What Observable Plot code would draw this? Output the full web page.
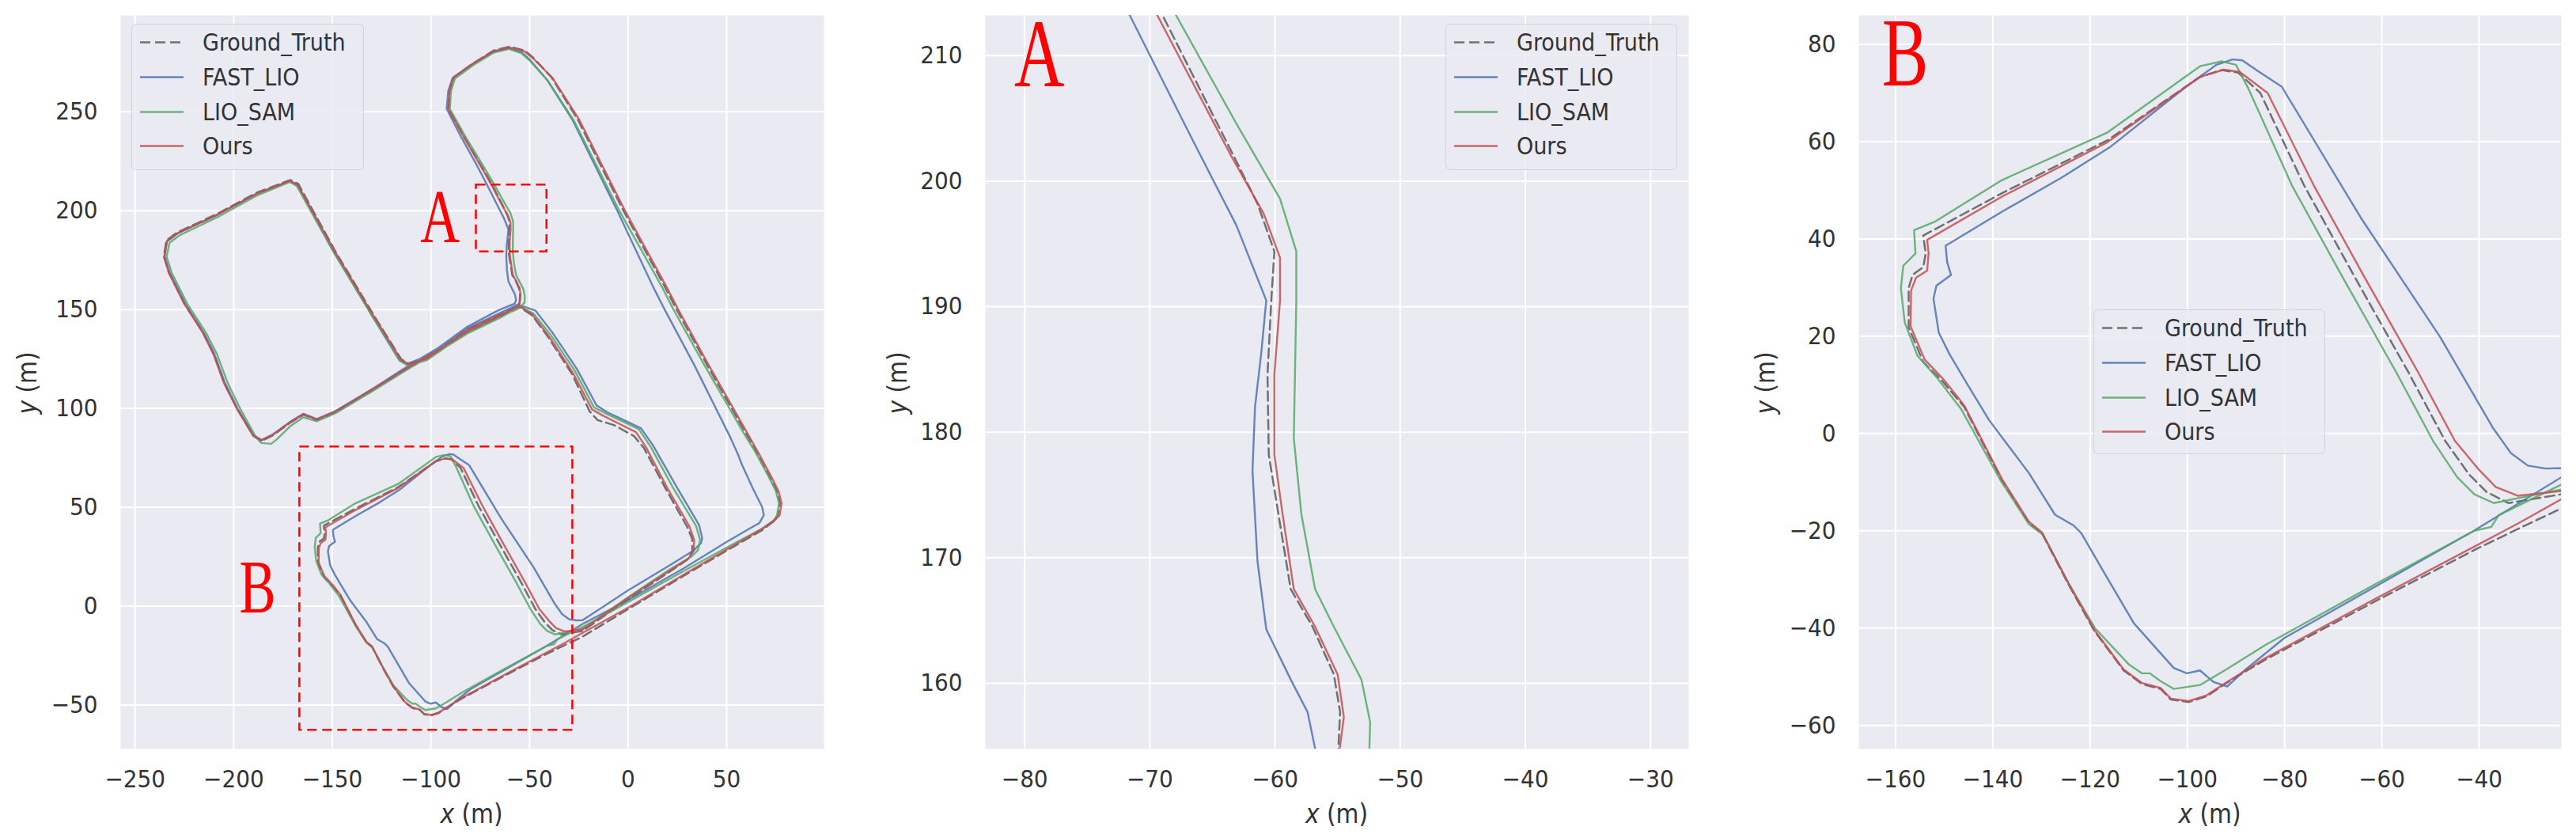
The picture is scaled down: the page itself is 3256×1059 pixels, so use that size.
<!DOCTYPE html>
<html>
<head>
<meta charset="utf-8">
<script src="https://cdn.jsdelivr.net/npm/d3@7"></script>
<script src="https://cdn.jsdelivr.net/npm/@observablehq/plot@0.6"></script>
<style>
  html, body { margin: 0; padding: 0; background: #ffffff; }
  #root { position: relative; width: 3256px; height: 1059px; overflow: hidden;
          font-family: "DejaVu Sans Condensed", "DejaVu Sans", sans-serif; color: #333; }
  .panel { position: absolute; top: 0; }
  .axlabel { position: absolute; font-size: 33px; line-height: 1; white-space: nowrap; color: #333; }
  .legend { position: absolute; box-sizing: border-box; background: rgba(234,234,242,0.8);
            border: 1.5px solid #d2d2da; border-radius: 6px; }
</style>
</head>
<body>
<div id="root"></div>
<script>
// ---------------- data (x, y in metres) ----------------
const GT = [
[74,43],[68,38.5],[55,31],[30,16.5],[0,-1.5],
[-23.1,-15.4],[-32,-19.6],[-41.1,-24],[-61.4,-34.5],[-84,-46.5],[-92,-51.3],[-96,-54],[-99.7,-55.2],[-103.4,-54.7],[-105.5,-52.5],[-109.3,-51.5],[-113.1,-48.7],
[-119.1,-40.6],[-124.5,-30.9],[-129.9,-20.5],[-132.6,-18.4],[-138.1,-9.7],[-145.9,5.5],[-150.5,10.9],[-154.3,14.7],[-157.3,21.8],[-157.3,29.9],[-156.5,32.6],[-154.3,34.2],[-153.8,37],[-154.3,40.7],
[-138.1,49.4],[-116.4,60.3],[-97.4,73.3],[-93,74.7],[-89.6,74.2],
[-85,70],[-76,51],[-65.5,32],[-54.5,12.5],[-47,-1.5],[-42,-8.5],[-38.5,-12],[-34,-14.3],
[-23.1,-12.5],[0,3.5],[20.4,17],[30,23.5],[32.5,27.5],
[32.5,34],[30,40],[19,59.5],[8,80],[3,86],[-7,91.5],[-15.5,94.1],[-19.5,98.5],[-28.5,117.5],[-40.8,136.5],[-48.8,147.2],[-55.5,151.5],
[-65,146.5],[-81.7,138.5],[-95,130],[-111,120.8],[-128.4,110.1],[-148.5,98.1],[-157.9,94.1],[-164.6,96.8],[-171.3,92.8],[-180.6,86.1],[-186,83.5],[-190,86.1],[-198,99.5],[-204.7,112.8],[-210,127.5],[-215.4,138.2],[-224.8,152.8],[-232.8,168.8],[-235.4,176.8],[-234.1,184.9],[-228.8,188.9],[-208.7,198.2],[-188.7,208.9],[-171.3,215.5],[-167.2,213.5],[-148.5,179.5],[-128.4,146.2],[-115,124.8],[-111,122.5],[-101.8,125.5],[-81.7,139.8],[-65,147.5],[-56,151.5],
[-55,153.5],[-54.8,157.7],[-55.3,160.7],[-57,164.5],[-58.75,167.5],[-59.8,173.9],[-60.5,178.2],[-60.6,184.6],[-60.3,190.5],[-60.05,194.4],[-61.4,198.2],[-63.1,201.6],[-68.98,213.2],[-75,223.5],[-83,236.9],[-91,251.5],[-90.4,260.9],[-88.4,267.5],[-79,274.2],[-68.3,280.9],[-60.3,282.9],[-52.3,280.9],[-48.3,277.5],[-38.9,267.5],[-25.5,246],[-2.4,200],[19,160.8],[24.6,150],[40,122],[60.5,86],[65,78],[71.5,66],[75.5,58],[77,52],[76,46],[74,43]
];
const FAST_LIO = [
[61.9,39.4],[50,32.5],[28,19],[-1,2.5],
[-23.1,-9],[-41.1,-20],[-61.4,-31.5],[-80,-42],[-88,-48.5],[-91.8,-52],[-94.6,-51.1],[-97.4,-48.7],[-100.1,-49.3],[-102.8,-48.2],
[-111,-39],[-116.4,-29.8],[-121.8,-20.5],[-123.4,-18.9],[-127.2,-16.7],[-132.6,-8.1],[-140.8,2.8],[-145.7,10.9],[-148.9,16.3],[-151.1,20.7],[-152.2,27.7],[-151.6,30.4],[-148.6,32.6],[-149.4,35.3],[-149.7,38.6],
[-138.1,45.6],[-126,52.5],[-116,58.8],[-100,71.5],[-94,75.8],[-90.7,76.9],[-88.7,76.7],
[-85.5,74.5],[-80.6,71.3],[-64.3,44.3],[-48,19.8],[-37.2,1.2],[-33.5,-4],[-30,-6.6],[-26.3,-7.2],
[-23.1,-7.1],[0,8],[20,20],[33,28],[37,32],
[37.5,34.5],[36,41],[24.5,60.5],[12.5,81.5],[6.5,90],[-10.5,98],[-16,101.5],[-26,120],[-38.5,138.5],[-47,149.5],[-56,152.5],
[-65,148.2],[-81.7,140.2],[-95,131.3],[-111,121.8],[-128.4,110.6],[-148.5,98.6],[-157.9,94.6],[-164.6,97.3],[-171.3,93.3],[-180.6,86.6],[-186,84],[-190,86.6],[-198,99.8],[-204.5,113],[-209.8,127.5],[-215.2,138.2],[-224.5,152.8],[-232.5,168.8],[-235,176.8],[-233.8,184.5],[-228.5,188.5],[-208.5,197.8],[-188.5,208.5],[-171.3,215],[-167.5,212.8],[-149,178.8],[-129,145.5],[-116,124.3],[-112,122.5],[-102,126.5],[-82,141],[-66,149.5],[-57.5,153],
[-56.8,154.8],[-57.4,157.7],[-58.75,160.3],[-60.7,164.3],[-61.4,169.7],[-61.8,176.9],[-61.6,182],[-61.1,186.3],[-60.7,190.5],[-63.1,196.5],[-66.6,203.3],[-71.6,213.2],[-77,223.5],[-84.5,236.9],[-92,251.5],[-91.2,260.5],[-89,267],[-79.5,273.8],[-68.5,280.3],[-60.5,282],[-54,280],[-50,276.5],[-41,266],[-28,245.5],[-5.5,200],[13,160.8],[18.5,150],[33.5,122],[51.5,86],[56,76],[57.5,72],[63,60],[68,50],[68.8,46],[66.5,42],[61.9,39.4]
];
const LIO_SAM = [
[73.5,43],[67.5,39],[54,31.8],[29,18.2],[-1,1.5],
[-23.1,-10.5],[-36,-16.8],[-37.5,-19.2],[-41,-20],[-61.4,-31],[-84,-43.5],[-92,-48.5],[-97.4,-51.7],[-102.8,-52.5],[-105.5,-50.9],[-107.7,-49.3],[-109.3,-49.3],[-112,-47.5],
[-119,-40],[-124.3,-31],[-129.7,-20.8],[-132.6,-18.6],[-138.3,-9.8],[-146.5,5],[-151.5,11.5],[-155.5,16],[-158.1,22.8],[-158.9,29.9],[-158.4,34.5],[-155.9,37],[-156.2,41.8],
[-152,43.5],[-138.1,52.1],[-116.4,61.9],[-97.4,75.5],[-93,76.5],[-90,75.8],
[-87.5,71],[-78.5,51],[-68,32],[-57,12.5],[-49.5,-1.5],[-44.5,-9],[-41,-12.5],[-37,-14.3],
[-23.1,-11.5],[0,4.5],[21,18.5],[32,25],[35.5,28.5],
[36.5,33.5],[34.5,40.5],[23,59.5],[11.5,80.5],[5.5,89.5],[-11.5,97.5],[-17.3,100.5],[-27,119],[-39.5,137.5],[-48,148],[-55,151.5],
[-65,145.8],[-81.7,137.8],[-95,129.5],[-111,120.3],[-128.4,109.5],[-148.5,97.5],[-157.9,93.5],[-164.6,95.5],[-171.3,91],[-178,84.5],[-181,82.1],[-186,82.5],[-189,86],[-196.5,99.5],[-203,112.8],[-208.5,127.5],[-214,138.2],[-223.5,152.8],[-231.5,168.8],[-234,176.8],[-232.5,183.8],[-227.5,187.5],[-208,196.8],[-188.5,207.5],[-171.5,214.5],[-168,212.5],[-149.2,178.8],[-129,145.5],[-115.5,124],[-111.5,121.5],[-101.8,124.5],[-81.7,138.5],[-65,146.3],[-55.5,150.5],
[-52.5,153.5],[-52.4,156.9],[-53.1,160.3],[-55.3,164.5],[-56.8,167.5],[-57.9,173.5],[-58.5,179.5],[-58.3,190.5],[-58.3,194.4],[-59.6,198.6],[-63.1,204.6],[-67.9,213.2],[-74,223.5],[-82.2,236.9],[-90.4,251.5],[-89.8,260.5],[-87.8,266.8],[-78.6,273.5],[-68,280],[-60.5,281.8],[-54,279.5],[-50,276],[-41,266],[-27.5,245.5],[-4.5,200],[17.5,160.8],[23,150],[38.6,122],[59.5,86],[64.5,78],[71,66],[75,58],[76.5,52],[75.5,46],[73.5,43]
];
const OURS = [
[74.8,44],[68.8,39.5],[55.5,31.8],[30.5,17.3],[0.5,-0.5],
[-23.1,-13.5],[-32,-18.5],[-41.1,-23.3],[-61.4,-34],[-84,-46.2],[-92,-51.2],[-96,-53.8],[-99.7,-55],[-103.4,-54.5],[-105.5,-52.3],[-109.3,-51.3],[-113.1,-48.5],
[-119.1,-40.4],[-124.5,-30.7],[-129.9,-20.3],[-132.6,-18.1],[-138.1,-9.4],[-145.9,5.8],[-150.3,11.3],[-154,15.2],[-156.9,22],[-156.8,29.4],[-155.8,32],[-153.5,33.5],[-153.2,37],[-153.5,39.8],
[-138.1,48.7],[-116.4,59.9],[-97.4,73.3],[-92.5,74.8],[-89.2,74.3],
[-83.5,70],[-74,51],[-63.5,32],[-52.5,12.5],[-45,-1.5],[-40,-7.5],[-36.6,-11],[-32,-12.8],
[-23.1,-11.8],[0.5,4.5],[21,17.8],[30.5,24],[33.2,28],
[33.5,33.5],[31,40.5],[20,59.5],[9,80.5],[4,88],[-12.7,96.3],[-18.3,99.5],[-28,118],[-40.4,136.8],[-48.6,147.5],[-55.3,151.8],
[-65,146.8],[-81.7,138.8],[-95,130.3],[-111,121],[-128.4,110.3],[-148.5,98.3],[-157.9,94.4],[-164.6,97],[-171.3,93],[-180.6,86.3],[-186,83.8],[-190.3,86.5],[-198.3,99.7],[-205,113],[-210.3,127.5],[-215.6,138.2],[-225,152.8],[-233,168.8],[-235.2,176.8],[-233.8,184.6],[-228.5,188.5],[-208.5,197.8],[-188.5,208.5],[-171.5,215],[-167.5,213],[-148.7,179.3],[-128.6,146],[-115.2,124.6],[-111.2,122.3],[-101.8,125.3],[-81.7,139.6],[-65,147.3],[-56,151.3],
[-55,153.5],[-54.5,157.3],[-55,160.7],[-56.8,164.5],[-58.5,167.5],[-59.4,173.5],[-60.05,178.2],[-60.05,184.6],[-59.6,190.5],[-59.6,193.9],[-60.9,197.4],[-63.5,202],[-69.4,213.2],[-75.3,223.5],[-83.2,236.9],[-91.2,251.5],[-90.6,260.9],[-88.6,267.3],[-79.2,274],[-68.5,280.5],[-60.3,282.5],[-52.5,280.5],[-48.5,277.3],[-38.5,267.3],[-24.8,246],[-1.6,200],[19.8,160.8],[25.4,150],[40.8,122],[61.3,86],[65.8,78],[72.3,66],[76.3,58],[77.8,52],[76.8,46],[74.8,44]
];

const seriesNames = ["Ground_Truth", "FAST_LIO", "LIO_SAM", "Ours"];

// axis ticks and ranges of the three panels
const p1XTicks = [-250, -200, -150, -100, -50, 0, 50];
const p1YTicks = [-50, 0, 50, 100, 150, 200, 250];
const p1XDomain = [-257.3, 99.3];
const p1YDomain = [-72.2, 298.7];
const p2XTicks = [-80, -70, -60, -50, -40, -30];
const p2YTicks = [160, 170, 180, 190, 200, 210];
const p2XDomain = [-83.14, -26.95];
const p2YDomain = [154.76, 213.2];
const p3XTicks = [-160, -140, -120, -100, -80, -60, -40];
const p3YTicks = [-60, -40, -20, 0, 20, 40, 60, 80];
const p3XDomain = [-167.55, -23.1];
const p3YDomain = [-64.85, 85.94];

// zoom regions marked on the overview, and their letters
const zoomBoxes = [
  {name: "A", x1: -77.0, x2: -41.2, y1: 179.2, y2: 213.0},
  {name: "B", x1: -166.5, x2: -28.1, y1: -62.7, y2: 80.5}
];
const p1Letters = [{t: "A", x: -105.4, y: 211.5}, {t: "B", x: -197.1, y: 24}];
const p2Letters = [{t: "A", x: -80.83, y: 213.0}];
const p3Letters = [{t: "B", x: -162.8, y: 85.6}];

// ---------------- drawing ----------------
const FONT = '"DejaVu Sans Condensed", "DejaVu Sans", sans-serif';
const styles = [
  {data: GT, stroke: "#5b5b5b", dash: "12,6", width: 2.5},
  {data: FAST_LIO, stroke: "#4C72B0", dash: null, width: 2.4},
  {data: LIO_SAM, stroke: "#55A868", dash: null, width: 2.4},
  {data: OURS, stroke: "#C44E52", dash: null, width: 2.4}
];

function makePanel({xDomain, yDomain, xTicks, yTicks, width, marginLeft, marginRight, letters, letterSize, boxes}) {
  const marks = [
    Plot.frame({fill: "#EAEAF2", stroke: null}),
    Plot.gridX(xTicks, {stroke: "#ffffff", strokeOpacity: 1, strokeWidth: 2}),
    Plot.gridY(yTicks, {stroke: "#ffffff", strokeOpacity: 1, strokeWidth: 2}),
    ...styles.map(s => Plot.line(s.data, {
      x: d => d[0], y: d => d[1], stroke: s.stroke, strokeWidth: s.width,
      strokeDasharray: s.dash, strokeOpacity: 0.85, clip: true
    })),
    Plot.axisX(xTicks, {tickSize: 0, tickPadding: 26, label: null, fontSize: 31}),
    Plot.axisY(yTicks, {tickSize: 0, tickPadding: 29, label: null, fontSize: 31})
  ];
  if (boxes) {
    marks.push(Plot.rect(boxes, {x1: "x1", x2: "x2", y1: "y1", y2: "y2", fill: "none",
      stroke: "red", strokeWidth: 2.5, strokeDasharray: "12,7"}));
  }
  marks.push(Plot.text(letters, {x: "x", y: "y", text: "t", fill: "red", fontSize: letterSize,
    fontFamily: '"Liberation Serif", "DejaVu Serif", serif', textAnchor: "start", lineAnchor: "top"}));
  const svg = Plot.plot({
    width, height: 1059, marginLeft, marginRight, marginTop: 19, marginBottom: 113,
    x: {domain: xDomain}, y: {domain: yDomain},
    style: {background: "transparent", fontFamily: FONT, fontSize: "31px", color: "#333", overflow: "visible"},
    marks
  });
  // squeeze the red letters horizontally like the original annotation glyphs
  svg.querySelectorAll('g[fill="red"] text').forEach(t => {
    const tr = t.getAttribute("transform") || "";
    t.setAttribute("transform", tr + " scale(0.72,1)");
  });
  return svg;
}

const root = document.getElementById("root");

function place(el, left) {
  const d = document.createElement("div");
  d.className = "panel";
  d.style.left = left + "px";
  d.appendChild(el);
  root.appendChild(d);
}

place(makePanel({xDomain: p1XDomain, yDomain: p1YDomain, xTicks: p1XTicks, yTicks: p1YTicks,
  width: 1060, marginLeft: 152, marginRight: 19, letters: p1Letters, letterSize: 96, boxes: zoomBoxes}), 0);
place(makePanel({xDomain: p2XDomain, yDomain: p2YDomain, xTicks: p2XTicks, yTicks: p2YTicks,
  width: 1080, marginLeft: 165, marginRight: 26, letters: p2Letters, letterSize: 122}), 1080);
place(makePanel({xDomain: p3XDomain, yDomain: p3YDomain, xTicks: p3XTicks, yTicks: p3YTicks,
  width: 1086, marginLeft: 179, marginRight: 19, letters: p3Letters, letterSize: 122}), 2170);

// axis labels
function axisLabel(html, cx, cy, rotate) {
  const d = document.createElement("div");
  d.className = "axlabel";
  d.innerHTML = html;
  d.style.left = cx + "px";
  d.style.top = cy + "px";
  d.style.transform = "translate(-50%,-50%)" + (rotate ? " rotate(-90deg)" : "");
  root.appendChild(d);
}
[[596, 34], [1689.5, 1134], [2793, 2231]].forEach(([xc, yc]) => {
  axisLabel("<i>x</i> (m)", xc, 1028, false);
  axisLabel("<i>y</i> (m)", yc, 484, true);
});

// legends
function legend(left, top, w, h) {
  const d = document.createElement("div");
  d.className = "legend";
  d.style.left = left + "px"; d.style.top = top + "px";
  d.style.width = w + "px"; d.style.height = h + "px";
  const ns = "http://www.w3.org/2000/svg";
  const s = document.createElementNS(ns, "svg");
  s.setAttribute("width", w); s.setAttribute("height", h);
  s.style.position = "absolute"; s.style.left = "-1.5px"; s.style.top = "-1.5px";
  const rows = [23.5, 67.5, 111.5, 154.5];
  seriesNames.forEach((name, i) => {
    const st = styles[i];
    const ln = document.createElementNS(ns, "line");
    ln.setAttribute("x1", 11); ln.setAttribute("x2", 66);
    ln.setAttribute("y1", rows[i]); ln.setAttribute("y2", rows[i]);
    ln.setAttribute("stroke", st.stroke); ln.setAttribute("stroke-width", st.width);
    ln.setAttribute("stroke-opacity", 0.85);
    if (st.dash) ln.setAttribute("stroke-dasharray", "13,6");
    s.appendChild(ln);
    const tx = document.createElementNS(ns, "text");
    tx.setAttribute("x", 90); tx.setAttribute("y", rows[i]);
    tx.setAttribute("dominant-baseline", "central");
    tx.setAttribute("font-family", FONT); tx.setAttribute("font-size", 30);
    tx.setAttribute("fill", "#333");
    tx.textContent = name;
    s.appendChild(tx);
  });
  d.appendChild(s);
  root.appendChild(d);
}
legend(166, 30, 294, 185);
legend(1827, 30, 293, 185);
legend(2646, 391, 293, 183);
</script>
</body>
</html>
